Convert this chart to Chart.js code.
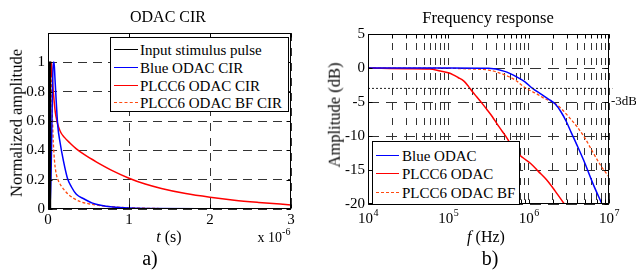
<!DOCTYPE html>
<html><head><meta charset="utf-8">
<script src="https://cdn.jsdelivr.net/npm/chart.js@4"></script>
<style>
body{margin:0;background:#fff;}
#wrap{position:relative;width:636px;height:271px;overflow:hidden;font-family:"Liberation Serif","Times New Roman",serif;color:#000;background:#fff;}
canvas{position:absolute;top:0;}
.t{position:absolute;white-space:nowrap;line-height:1;transform:translate(-50%,-50%);}
.rot{transform:translate(-50%,-50%) rotate(-90deg);}
.leg{position:absolute;border:1px solid #000;background:#fff;box-sizing:border-box;}
.smp{position:absolute;height:0;}
.lt{position:absolute;white-space:nowrap;line-height:1;font-size:15px;transform:translateY(-50%);}
sup{font-size:10px;vertical-align:0;position:relative;top:-7px;}
</style></head><body>
<div id="wrap">
<canvas id="c1" width="318" height="271" style="left:0;width:318px;height:271px"></canvas>
<canvas id="c2" width="318" height="271" style="left:318px;width:318px;height:271px"></canvas>

<div class="t" style="left:168px;top:17px;font-size:16px">ODAC CIR</div>
<div class="t rot" style="left:17px;top:123px;font-size:16.5px">Normalized amplitude</div>
<div class="t" style="left:169px;top:237px;font-size:16px"><i>t</i> (s)</div>
<div class="t" style="left:274px;top:238px;font-size:14px">x 10<sup>-6</sup></div>
<div class="t" style="left:150px;top:258px;font-size:20px">a)</div>

<div class="t" style="left:488px;top:18px;font-size:16.5px">Frequency response</div>
<div class="t rot" style="left:335px;top:115px;font-size:16.5px">Amplitude (dB)</div>
<div class="t" style="left:486px;top:237px;font-size:16px"><i>f</i> (Hz)</div>
<div class="t" style="left:490px;top:258px;font-size:20px">b)</div>
<div class="t" style="left:624px;top:100px;font-size:13px">-3dB</div>

<div class="leg" style="left:110px;top:37px;width:179px;height:75px">
  <div class="smp" style="left:3px;width:24px;top:11px;border-top:1.5px solid #000"></div><div class="lt" style="left:29px;top:12px">Input stimulus pulse</div>
  <div class="smp" style="left:3px;width:24px;top:29px;border-top:1.5px solid #0000ff"></div><div class="lt" style="left:29px;top:30px">Blue ODAC CIR</div>
  <div class="smp" style="left:3px;width:24px;top:47px;border-top:1.5px solid #ff0000"></div><div class="lt" style="left:29px;top:48px">PLCC6 ODAC CIR</div>
  <div class="smp" style="left:3px;width:24px;top:64px;border-top:1.3px dashed #ff4a10"></div><div class="lt" style="left:29px;top:65px">PLCC6 ODAC BF CIR</div>
</div>

<div class="leg" style="left:372px;top:141px;width:148px;height:64px">
  <div class="smp" style="left:3px;width:23px;top:13px;border-top:1.5px solid #0000ff"></div><div class="lt" style="left:29px;top:14px">Blue ODAC</div>
  <div class="smp" style="left:3px;width:23px;top:31px;border-top:1.5px solid #ff0000"></div><div class="lt" style="left:29px;top:32px">PLCC6 ODAC</div>
  <div class="smp" style="left:3px;width:23px;top:50px;border-top:1.3px dashed #ff4a10"></div><div class="lt" style="left:29px;top:51px">PLCC6 ODAC BF</div>
</div>
</div>

<script>
// ---------- Data: left chart (time in units of 1e-6 s) ----------
const tPulse = [0, 0.012, 0.012, 0.03, 0.03, 3];
const yPulse = [0, 0, 1, 1, 0, 0];

const tBlue = [0, 0.025, 0.04, 0.055, 0.065, 0.075, 0.085, 0.1, 0.12, 0.15, 0.19, 0.24, 0.29, 0.35, 0.44, 0.55, 0.65, 0.8, 1.0, 1.3, 2.0, 3.0];
const yBlue = [0, 0, 0.3, 0.8, 1.0, 1.0, 0.9, 0.75, 0.57, 0.45, 0.33, 0.21, 0.15, 0.1, 0.07, 0.04, 0.025, 0.013, 0.006, 0.003, 0.001, 0];

const tRed = [0, 0.008, 0.015, 0.022, 0.03, 0.036, 0.042, 0.05, 0.06, 0.075, 0.09, 0.11, 0.13, 0.16, 0.2, 0.27, 0.35, 0.45, 0.6, 0.8, 1.0, 1.2, 1.4, 1.7, 2.0, 2.3, 2.6, 3.0];
const yRed = [0, 0, 0.4, 0.85, 1.0, 0.9, 1.0, 0.93, 0.84, 0.74, 0.66, 0.6, 0.56, 0.52, 0.49, 0.45, 0.41, 0.37, 0.32, 0.26, 0.21, 0.17, 0.14, 0.105, 0.08, 0.06, 0.045, 0.028];

const tBF = [0, 0.01, 0.018, 0.025, 0.032, 0.04, 0.048, 0.056, 0.066, 0.08, 0.095, 0.11, 0.13, 0.16, 0.2, 0.25, 0.31, 0.4, 0.52, 0.7, 0.9, 1.2, 1.6, 2.2, 3.0];
const yBF = [0, 0, 0.4, 0.85, 0.95, 0.88, 0.75, 0.6, 0.45, 0.33, 0.26, 0.22, 0.19, 0.16, 0.13, 0.1, 0.075, 0.05, 0.034, 0.02, 0.011, 0.005, 0.002, 0.001, 0];

const xTicksL = [0, 1, 2, 3];
const xTickLabelsL = ['0', '1', '2', '3'];
const yTicksL = [0, 0.2, 0.4, 0.6, 0.8, 1];
const yTickLabelsL = ['0', '0.2', '0.4', '0.6', '0.8', '1'];

// ---------- Data: right chart (frequency in Hz, amplitude in dB) ----------
const fBlue = [1e4, 1e5, 3.16e5, 5.01e5, 7.08e5, 8.91e5, 1.12e6, 1.41e6, 1.78e6, 2.14e6, 2.51e6, 2.95e6, 3.39e6, 3.98e6, 5.01e6, 6.31e6, 8.32e6];
const dBlue = [0, 0, -0.05, -0.5, -1.3, -2.0, -3.0, -3.8, -4.6, -5.3, -6.4, -7.9, -9.5, -11.3, -14.0, -17.0, -20.2];

const fRed = [1e4, 3.16e4, 5.89e4, 7.94e4, 1e5, 1.15e5, 1.32e5, 1.55e5, 1.78e5, 2e5, 2.24e5, 2.63e5, 3.02e5, 3.55e5, 3.98e5, 4.68e5, 5.37e5, 6.03e5, 7.08e5, 8.51e5, 1.05e6, 1.32e6, 1.66e6, 2.14e6, 2.82e6];
const dRed = [0, -0.1, -0.15, -0.45, -0.7, -1.0, -1.4, -1.9, -2.7, -3.5, -4.2, -5.2, -6.1, -7.2, -8.1, -9.3, -10.3, -11.3, -12.4, -13.2, -14.0, -15.2, -16.4, -18.1, -20.1];

const fBF = [1e4, 1e5, 2e5, 3.16e5, 5.01e5, 7.08e5, 8.51e5, 1e6, 1.26e6, 1.58e6, 2e6, 2.51e6, 3.16e6, 3.98e6, 5.01e6, 6.31e6, 7.94e6, 1e7];
const dBF = [0, -0.05, -0.15, -0.3, -1.0, -1.9, -2.7, -3.2, -3.8, -4.5, -5.0, -5.9, -7.2, -8.6, -10.3, -12.4, -14.4, -16.0];

const f3dB = [1e4, 1.1e7];
const d3dB = [-3, -3];

const xTicksR = [1e4,2e4,3e4,4e4,5e4,6e4,7e4,8e4,9e4,1e5,2e5,3e5,4e5,5e5,6e5,7e5,8e5,9e5,1e6,2e6,3e6,4e6,5e6,6e6,7e6,8e6,9e6,1e7];
const xMajorR = [1e4, 1e5, 1e6, 1e7];
const xExpR = ['4', '5', '6', '7'];
const yTicksR = [-20, -15, -10, -5, 0, 5];
const yTickLabelsR = ['-20', '-15', '-10', '-5', '0', '5'];

// ---------- helpers ----------
const FONT = '"Liberation Serif","Times New Roman",serif';
Chart.defaults.font.family = FONT;
Chart.defaults.font.size = 15;
Chart.defaults.color = '#000';
const pts = (xs, ys) => xs.map((x, i) => ({x, y: ys[i]}));

const frame = {
  id: 'frame',
  afterDatasetsDraw(chart, args, opts) {
    const {ctx, chartArea: a, scales: {x, y}} = chart;
    const L = Math.round(a.left) + 0.5, R = Math.round(a.right) - 0.5;
    const T = Math.round(a.top) + 0.5, B = Math.round(a.bottom) - 0.5;
    ctx.save();
    ctx.setLineDash([]);
    ctx.strokeStyle = '#000';
    ctx.lineWidth = 1;
    ctx.beginPath();
    const tl = opts.len || 4;
    x.ticks.forEach(t => {
      const px = Math.round(x.getPixelForValue(t.value)) + 0.5;
      ctx.moveTo(px, B); ctx.lineTo(px, B - tl);
      ctx.moveTo(px, T); ctx.lineTo(px, T + tl);
    });
    y.ticks.forEach(t => {
      const py = Math.round(y.getPixelForValue(t.value)) + 0.5;
      ctx.moveTo(L, py); ctx.lineTo(L + tl, py);
      ctx.moveTo(R, py); ctx.lineTo(R - tl, py);
    });
    ctx.stroke();
    ctx.strokeRect(L, T, R - L, B - T);
    ctx.restore();
  }
};

const logLabels = {
  id: 'logLabels',
  afterDraw(chart) {
    const {ctx, scales: {x}, chartArea: a} = chart;
    ctx.save();
    ctx.fillStyle = '#000';
    ctx.textBaseline = 'alphabetic';
    ctx.textAlign = 'left';
    xMajorR.forEach((v, i) => {
      const px = x.getPixelForValue(v);
      ctx.font = '15px ' + FONT;
      const w1 = ctx.measureText('10').width;
      ctx.font = '10px ' + FONT;
      const w2 = ctx.measureText(xExpR[i]).width;
      const x0 = px - (w1 + w2) / 2;
      ctx.font = '15px ' + FONT;
      ctx.fillText('10', x0, a.bottom + 19);
      ctx.font = '10px ' + FONT;
      ctx.fillText(xExpR[i], x0 + w1 + 0.5, a.bottom + 12);
    });
    ctx.restore();
  }
};

const gridCol = '#333';

// ---------- Left chart ----------
new Chart(document.getElementById('c1'), {
  type: 'line',
  data: {datasets: [
    {label: 'Input stimulus pulse', data: pts(tPulse, yPulse), borderColor: '#000', borderWidth: 1.5, tension: 0},
    {label: 'Blue ODAC CIR', data: pts(tBlue, yBlue), borderColor: '#0000ff', borderWidth: 1.5, cubicInterpolationMode: 'monotone'},
    {label: 'PLCC6 ODAC CIR', data: pts(tRed, yRed), borderColor: '#ff0000', borderWidth: 1.5, cubicInterpolationMode: 'monotone'},
    {label: 'PLCC6 ODAC BF CIR', data: pts(tBF, yBF), borderColor: '#ff4a10', borderWidth: 1.3, borderDash: [3, 2], cubicInterpolationMode: 'monotone'}
  ]},
  options: {
    responsive: false, animation: false, events: [],
    layout: {padding: {left: 0, top: 33, right: 27, bottom: 0}},
    elements: {point: {radius: 0}},
    plugins: {legend: {display: false}, tooltip: {enabled: false}, frame: {len: 4}},
    scales: {
      x: {type: 'linear', min: 0, max: 3,
        afterBuildTicks: s => { s.ticks = xTicksL.map(v => ({value: v})); },
        afterFit: s => { s.height = 62; },
        ticks: {callback: (v, i) => xTickLabelsL[i], padding: 2, maxRotation: 0, autoSkip: false},
        grid: {color: gridCol, lineWidth: 1, drawTicks: false},
        border: {display: false, dash: [8, 7]}},
      y: {type: 'linear', min: 0, max: 1.2,
        afterBuildTicks: s => { s.ticks = yTicksL.map(v => ({value: v})); },
        afterFit: s => { s.width = 48; },
        ticks: {callback: (v, i) => yTickLabelsL[i], padding: 3, autoSkip: false},
        grid: {color: gridCol, lineWidth: 1, drawTicks: false},
        border: {display: false, dash: [9, 6]}}
    }
  },
  plugins: [frame]
});

// ---------- Right chart ----------
new Chart(document.getElementById('c2'), {
  type: 'line',
  data: {datasets: [
    {label: '-3dB', data: pts(f3dB, d3dB), borderColor: '#222', borderWidth: 1, borderDash: [2, 2], tension: 0, clip: {left: 0, top: 0, right: 6, bottom: 0}},
    {label: 'Blue ODAC', data: pts(fBlue, dBlue), borderColor: '#0000ff', borderWidth: 1.5, cubicInterpolationMode: 'monotone'},
    {label: 'PLCC6 ODAC', data: pts(fRed, dRed), borderColor: '#ff0000', borderWidth: 1.5, cubicInterpolationMode: 'monotone'},
    {label: 'PLCC6 ODAC BF', data: pts(fBF, dBF), borderColor: '#ff4a10', borderWidth: 1.3, borderDash: [3, 2], cubicInterpolationMode: 'monotone'}
  ]},
  options: {
    responsive: false, animation: false, events: [],
    layout: {padding: {left: 0, top: 34, right: 27, bottom: 0}},
    elements: {point: {radius: 0}},
    plugins: {legend: {display: false}, tooltip: {enabled: false}, frame: {len: 4}},
    scales: {
      x: {type: 'logarithmic', min: 1e4, max: 1e7,
        afterBuildTicks: s => { s.ticks = xTicksR.map(v => ({value: v})); },
        afterFit: s => { s.height = 67; },
        ticks: {display: false, autoSkip: false},
        grid: {color: gridCol, lineWidth: 1, drawTicks: false},
        border: {display: false, dash: [7, 8], dashOffset: 6}},
      y: {type: 'linear', min: -20, max: 5,
        afterBuildTicks: s => { s.ticks = yTicksR.map(v => ({value: v})); },
        afterFit: s => { s.width = 50; },
        ticks: {callback: (v, i) => yTickLabelsR[i], padding: 3, autoSkip: false},
        grid: {color: gridCol, lineWidth: 1, drawTicks: false},
        border: {display: false, dash: [11, 7]}}
    }
  },
  plugins: [frame, logLabels]
});
</script>
</body></html>
